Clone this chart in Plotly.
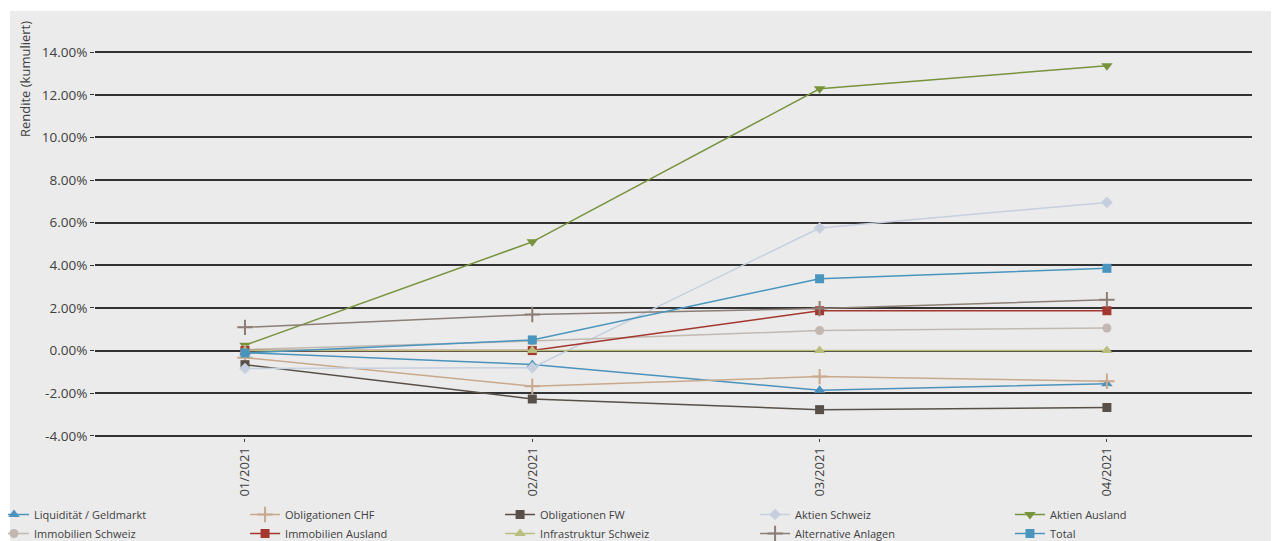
import plotly.graph_objects as go

months = ["01/2021", "02/2021", "03/2021", "04/2021"]

liquiditaet = [-0.10, -0.65, -1.86, -1.55]
oblig_chf = [-0.33, -1.67, -1.22, -1.44]
oblig_fw = [-0.66, -2.27, -2.77, -2.67]
aktien_ch = [-0.84, -0.80, 5.75, 6.95]
aktien_ausland = [0.25, 5.10, 12.28, 13.36]
immo_ch = [0.05, 0.45, 0.94, 1.06]
immo_ausland = [0.00, 0.00, 1.87, 1.87]
infra_ch = [0.00, 0.00, 0.00, 0.00]
alternative = [1.09, 1.69, 1.97, 2.39]
total = [-0.11, 0.50, 3.37, 3.86]

# (name, values, colour, marker symbol, marker size, legend column)
series = [
    ("Liquidität / Geldmarkt", liquiditaet, "#4b93bd", "triangle-up", 10, 1),
    ("Obligationen CHF", oblig_chf, "#c9a98c", "cross-thin", 11, 2),
    ("Obligationen FW", oblig_fw, "#585048", "square", 9, 3),
    ("Aktien Schweiz", aktien_ch, "#c6cfde", "diamond", 9, 4),
    ("Aktien Ausland", aktien_ausland, "#77933c", "triangle-down", 10, 5),
    ("Immobilien Schweiz", immo_ch, "#c2b8b1", "circle", 9, 1),
    ("Immobilien Ausland", immo_ausland, "#a4372e", "square", 9, 2),
    ("Infrastruktur Schweiz", infra_ch, "#b9bd7e", "triangle-up", 10, 3),
    ("Alternative Anlagen", alternative, "#8c7e74", "cross-thin", 11, 4),
    ("Total", total, "#4a95be", "square", 9, 5),
]

fig = go.Figure()
xs = list(range(len(months)))
for name, vals, color, sym, size, col in series:
    fig.add_trace(go.Scatter(
        x=xs, y=vals, name=name, mode="lines+markers",
        line=dict(color=color, width=1.5),
        marker=dict(symbol=sym, size=size, color=color,
                    line=dict(color=color, width=2 if "cross" in sym else 0)),
        cliponaxis=False,
        legend="legend" if col == 1 else f"legend{col}",
    ))

fig.add_shape(type="rect", xref="paper", yref="paper",
              x0=-0.0735, x1=1.03, y0=-0.35, y1=1.1005,
              fillcolor="#ebebeb", line=dict(width=0), layer="below")

fig.add_annotation(text="Rendite (kumuliert)", textangle=-90,
                   xref="paper", yref="paper", x=-0.0605, y=0.925,
                   xanchor="center", yanchor="middle", showarrow=False,
                   font=dict(size=13, color="#404040"))

legend_x = [-0.0873, 0.1297, 0.3501, 0.5705, 0.7908]
legend_common = dict(orientation="v", xref="paper", yref="paper",
                     xanchor="left", y=-0.1598, yanchor="top",
                     font=dict(size=11, color="#404040"),
                     bgcolor="rgba(0,0,0,0)", tracegroupgap=0, itemwidth=30)

fig.update_layout(
    width=1271, height=533,
    margin=dict(l=87, r=27, t=42, b=103, autoexpand=False),
    paper_bgcolor="white", plot_bgcolor="rgba(0,0,0,0)",
    font=dict(family="Open Sans, Noto Sans, sans-serif", color="#404040", size=12),
    showlegend=True,
    legend=dict(x=legend_x[0], **legend_common),
    legend2=dict(x=legend_x[1], **legend_common),
    legend3=dict(x=legend_x[2], **legend_common),
    legend4=dict(x=legend_x[3], **legend_common),
    legend5=dict(x=legend_x[4], **legend_common),
)
fig.update_xaxes(
    tickmode="array", tickvals=xs, ticktext=months, tickangle=-90,
    range=[-0.522, 3.505], showgrid=False, zeroline=False,
    ticks="outside", ticklen=3, tickcolor="#404040", showline=False,
    tickfont=dict(size=13, color="#404040"), automargin=False,
)
fig.update_yaxes(
    range=[-4.1, 14.1], tickvals=[-4, -2, 0, 2, 4, 6, 8, 10, 12, 14],
    ticktext=[f"{v:.2f}%" for v in [-4, -2, 0, 2, 4, 6, 8, 10, 12, 14]],
    showgrid=True, gridcolor="#333333", gridwidth=1.5,
    zeroline=False, ticks="outside", ticklen=4, tickcolor="#333333",
    tickfont=dict(size=13.5, color="#404040"), automargin=False,
)

fig.write_html("out.html")
